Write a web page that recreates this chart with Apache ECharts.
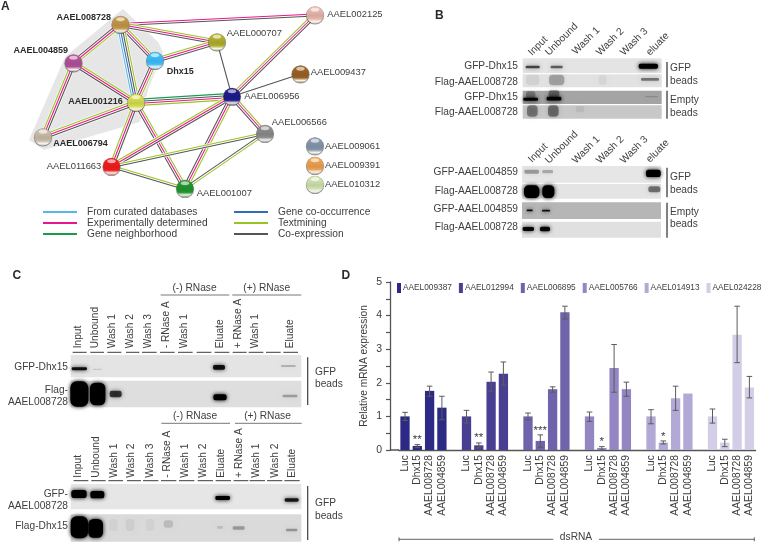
<!DOCTYPE html>
<html><head><meta charset="utf-8">
<style>html,body{margin:0;padding:0;background:#fff}#c{width:763px;height:542px}</style>
<script src="https://cdn.jsdelivr.net/npm/echarts@6/dist/echarts.min.js"></script>
</head><body><div id="c"></div>
<script>
// ---------- Panel D data ----------
const geneSeries = ['AAEL009387','AAEL012994','AAEL006895','AAEL005766','AAEL014913','AAEL024228'];
const treatments = ['Luc','Dhx15','AAEL008728','AAEL004859'];
const valuesG1 = [1.0,0.12,1.76,1.26];
const valuesG2 = [1.0,0.14,2.03,2.27];
const valuesG3 = [1.0,0.27,1.81,4.10];
const valuesG4 = [1.0,0.06,2.44,1.81];
const valuesG5 = [1.0,0.22,1.54,1.68];
const valuesG6 = [1.0,0.22,3.43,1.86];
const lowG1 = [0.88,0.07,1.60,0.90], highG1 = [1.12,0.16,1.90,1.60];
const lowG2 = [0.80,0.06,1.75,1.93], highG2 = [1.18,0.21,2.32,2.62];
const lowG3 = [0.90,0.08,1.72,3.90], highG3 = [1.10,0.45,1.88,4.28];
const lowG4 = [0.85,0.00,1.72,1.60], highG4 = [1.13,0.10,3.14,2.02];
const lowG5 = [0.78,0.18,1.18,null], highG5 = [1.20,0.27,1.90,null];
const lowG6 = [0.80,0.10,2.60,1.55], highG6 = [1.22,0.32,4.28,2.19];
const yTickLabels = ['0','1','2','3','4','5'];
const stars = [[1,'**',0.29],[6,'**',0.37],[11,'***',0.56],[16,'*',0.23],[21,'*',0.40]];
const barColors = ['#2c2a84','#483e92','#6f63ab','#9386c2','#b3a9d6','#d3cde8'];

// ---------- Panel A network ----------
const nodes = {
 '008728':[120.5,24.5,'#b48a44'],'002125':[315,15,'#d6a79e'],'000707':[217,42,'#a3a02a'],
 '004859':[73.5,63,'#a34a8e'],'Dhx15':[155,60.5,'#38aee8'],'009437':[300.5,74,'#8e5a22'],
 '006956':[232,96.5,'#1c1a80'],'001216':[136,102.5,'#c6cc4a'],'006566':[265,133.5,'#808080'],
 '006794':[43,137,'#b9ad9a'],'011663':[111.5,166.5,'#e01a1a'],'001007':[185,188.5,'#1f8a2a'],
 '009061':[315,146,'#7a8a9e'],'009391':[315,165.5,'#d9944c'],'010312':[315,184.5,'#bfcf9f']
};
const edgeColors = {c:'#55b8ea',o:'#2f6fb8',e:'#e8168a',n:'#1d9a4c',t:'#9ac425',x:'#555555'};
const edges = [
 ['008728','002125','ex'],['008728','000707','tex'],['008728','Dhx15','tex'],['008728','004859','tex'],
 ['008728','001216','txoc'],['Dhx15','000707','tex'],['Dhx15','001216','tex'],['004859','001216','tex'],
 ['004859','006794','xet'],['001216','006794','xet'],['001216','006956','nxet'],['001216','011663','xet'],
 ['001216','001007','tex'],['000707','006956','x'],['002125','006956','xet'],['009437','006956','x'],
 ['006956','006566','tex'],['006956','011663','xet'],['006956','001007','tex'],['006566','011663','xt'],
 ['006566','001007','tx'],['011663','001007','tx']
];
const hull = [[123,9],[158,42],[163,52],[148,90],[140,122],[44,150],[29,140],[65,57]];
const legendLines = [[43,77,212,'c'],[43,77,223,'e'],[43,77,234,'n'],[234,268,212,'o'],[234,268,223,'t'],[234,268,234,'x']];

// ---------- Blot panels ----------
const B = a => [420+a[0]/3, a[1]/3, a[2]/3, a[3]/3, a[4]];
const C = a => [a[0]/3, 270+a[1]/3, a[2]/3, a[3]/3, a[4]];
const blotPanels = [
 [522.7,58.3,139,14.7,'#e4e4e4'],[522.7,74.3,139,13,'#e2e2e2'],[522.7,90.7,139,13.3,'#a4a4a4'],[522.7,105.3,139,13.4,'#c8c8c8'],
 [522,166,139,16.7,'#e6e6e6'],[522,184,139,14.7,'#e4e4e4'],[522,202.3,139,16.7,'#b6b6b6'],[522,221.7,139,16,'#e0e0e0'],
 [70.7,355,230.6,22.3,'#e4e4e4'],[70.7,380.7,230.6,26.6,'#dedede'],[70.7,484,230.6,25.3,'#e6e6e6'],[70.7,514.3,230.6,27.4,'#dadada']
];
const bands = [
 [338,201,42,8,.65],[410,201,36,8,.55],[685,199,58,15,1.0],
 [338,240,40,32,.07],[410,240,46,32,.26],[548,240,24,28,.05],[690,238,54,8,.45],
 [332,285,28,22,.28],[402,282,32,22,.38],[332,298,44,9,1.0],[402,296,44,11,1.0],[695,290,38,4,.15],
 [337,333,32,34,.38],[400,333,32,34,.42],[480,328,26,18,.07],
 [335,515,44,12,.3],[383,515,32,10,.25],[700,520,44,22,1.0],
 [335,575,46,38,1.0],[385,575,36,38,1.0],[703,568,36,18,.45],
 [329,631,18,5,.95],[378,632,24,5,.9],
 [325,687,34,12,.95],[375,687,30,14,.95]
].map(B).concat([
 [238,296,46,9,.9],[292,298,28,4,.12],[657,292,36,14,.9],[865,288,44,5,.28],
 [238,372,54,76,1.0],[293,372,46,68,1.0],[347,372,36,20,.7],[660,382,40,18,1.0],[870,378,44,8,.28],
 [237,672,46,24,1.0],[292,674,42,22,1.0],[668,684,44,12,1.0],[875,690,42,10,.85],
 [238,772,52,66,1.0],[287,775,44,56,1.0],[505,762,28,22,.13],[660,772,18,8,.13],[716,774,36,10,.28],[875,780,34,8,.3],[340,765,26,36,.04],[390,765,26,36,.05],[450,765,26,36,.04]
].map(C));

// ---------- Text and rule layout: [text,x,y,align,bold,size,rotationDeg] ----------
const T = (s,x,y,a='left',b=0,f=10.2,r=0)=>[s,x,y,a,b,f,r];
const labels = [
 T('A',1,7,'left',1,12),T('B',435,16,'left',1,12),T('C',12.5,276,'left',1,12),T('D',341.5,276,'left',1,12),
 T('AAEL008728',111,17.3,'right',1,9),T('AAEL002125',327.3,14,'left',0,9.4),T('AAEL000707',226.7,33.3,'left',0,9.4),
 T('AAEL004859',68,50.7,'right',1,9),T('Dhx15',166.7,71.3,'left',1,9),T('AAEL009437',310.7,72.7,'left',0,9.4),
 T('AAEL006956',244.3,96,'left',0,9.4),T('AAEL001216',122.7,101.7,'right',1,9),T('AAEL006566',271.7,122.7,'left',0,9.4),
 T('AAEL006794',53.3,143.3,'left',1,9),T('AAEL011663',101.3,166.7,'right',0,9.4),T('AAEL001007',196.7,193.7,'left',0,9.4),
 T('AAEL009061',325,146,'left',0,9.4),T('AAEL009391',325,165,'left',0,9.4),T('AAEL010312',325,184,'left',0,9.4),
 T('From curated databases',87,212),T('Experimentally determined',87,223),T('Gene neighborhood',87,234),
 T('Gene co-occurrence',278,212),T('Textmining',278,223),T('Co-expression',278,234),
 // panel B
 T('GFP-Dhx15',518,65.7,'right'),T('Flag-AAEL008728',518,81.7,'right'),T('GFP-Dhx15',518,96.7,'right'),T('Flag-AAEL008728',518,112.3,'right'),
 T('GFP-AAEL004859',518,172,'right'),T('Flag-AAEL008728',518,190.7,'right'),T('GFP-AAEL004859',518,208.7,'right'),T('Flag-AAEL008728',518,226.7,'right'),
 T('GFP',670,68),T('beads',670,81),T('Empty',670,100),T('beads',670,112.7),T('GFP',670,177.3),T('beads',670,190),T('Empty',670,212),T('beads',670,224),
 T('Input',530,54,'left',0,10.2,45),T('Unbound',547,54,'left',0,10.2,45),T('Wash 1',574,53,'left',0,10.2,45),T('Wash 2',598,54,'left',0,10.2,45),T('Wash 3',622,54,'left',0,10.2,45),T('eluate',648,54,'left',0,10.2,45),
 T('Input',530,161,'left',0,10.2,45),T('Unbound',547,162,'left',0,10.2,45),T('Wash 1',574,162,'left',0,10.2,45),T('Wash 2',598,162,'left',0,10.2,45),T('Wash 3',622,162,'left',0,10.2,45),T('eluate',648,161,'left',0,10.2,45),
 // panel C
 T('GFP-Dhx15',68,366.7,'right'),T('Flag-',68,390,'right'),T('AAEL008728',68,402.3,'right'),T('GFP-',68,494,'right'),T('AAEL008728',68,505.7,'right'),T('Flag-Dhx15',68,526,'right'),
 T('GFP',315,371.7),T('beads',315,384.3),T('GFP',315,503.3),T('beads',315,516),
 T('(-) RNase',194.5,288,'center'),T('(+) RNase',266.7,288,'center'),T('(-) RNase',195,416,'center'),T('(+) RNase',267.5,416,'center'),
 // dsRNA
 T('dsRNA',576,537,'center'),
];
const colsC1 = ['Input','Unbound','Wash 1','Wash 2','Wash 3','- RNase A','Wash 1','','Eluate','+ RNase A','Wash 1','','Eluate'];
const colsC2 = ['Input','Unbound','Wash 1','Wash 2','Wash 3','- RNase A','Wash 1','Wash 2','Eluate','+ RNase A','Wash 1','Wash 2','Eluate'];
const colXC1 = [235,287,337,390,444,498,552,610,662,715,766,820,870];
const colXC2 = [235,290,343,395,450,502,555,610,663,717,770,825,878];
colsC1.forEach((s,i)=>{ if(s) labels.push(T(s,colXC1[i]/3,348.3,'left',0,10.2,90)); });
colsC2.forEach((s,i)=>{ labels.push(T(s,colXC2[i]/3,477.7,'left',0,10.2,90)); });

// rules: [x1,y1,x2,y2,width]
const rules = [
 [667,62,667,87.3,1.3],[667,90.7,667,118.7,1.3],[667,167.7,667,197.3,1.3],[667,202.7,667,237.7,1.3],
 [307.7,357.3,307.7,405,1.2],[307.7,486,307.7,540,1.2],
 [160.7,295,229.3,295,.7],[232.3,295,301.3,295,.7],[161.3,423.3,230,423.3,.7],[235,423.3,301.7,423.3,.7],
 [399,539.3,553.3,539.3,.8],[599,539.3,754.3,539.3,.8],[399,537.3,399,541.3,.8],[754.3,537.3,754.3,541.3,.8],
 [390,450,399,450,1.3]
];
[[218,260],[271,312],[322,364],[378,418],[426,470],[480,524],[534,578],[590,634],[644,688],[698,740],[746,790],[798,842],[850,894]]
 .forEach(p=>{rules.push([p[0]/3,352.3,p[1]/3,352.3,1]);rules.push([(p[0]+3)/3,480.7,(p[1]+5)/3,480.7,1]);});

// ---------- Assembly ----------
const groups = [valuesG1,valuesG2,valuesG3,valuesG4,valuesG5,valuesG6];
const lows = [lowG1,lowG2,lowG3,lowG4,lowG5,lowG6];
const highs = [highG1,highG2,highG3,highG4,highG5,highG6];
const categories = [];
groups.forEach((g,i)=>{ treatments.forEach(t=>categories.push(t)); if(i<5) categories.push(''); });
const slotOf = (g,k)=>g*5+k;
const errData = [];
groups.forEach((g,gi)=>g.forEach((v,k)=>{ if(lows[gi][k]!=null) errData.push([slotOf(gi,k),lows[gi][k],highs[gi][k]]); }));
const barSeries = geneSeries.map((name,gi)=>{
  const d = categories.map(()=>null);
  groups[gi].forEach((v,k)=>d[slotOf(gi,k)]=v);
  return {name,type:'bar',xAxisIndex:1,yAxisIndex:1,data:d,barWidth:9.3,barGap:'-100%',itemStyle:{color:barColors[gi]},silent:true,z:2};
});
const page = (name,data,renderItem,z)=>({name,type:'custom',xAxisIndex:0,yAxisIndex:0,data,renderItem,silent:true,z,clip:false,tooltip:{show:false}});
const idx = a=>a.map((_,i)=>[i]);

const chart = echarts.init(document.getElementById('c'),null,{renderer:'canvas'});
chart.setOption({
 animation:false,backgroundColor:'#ffffff',
 textStyle:{fontFamily:'Liberation Sans'},
 grid:[{left:0,top:0,width:763,height:542,show:false},{left:398.85,top:282,width:356.7,height:168,show:false}],
 xAxis:[{type:'value',min:0,max:763,show:false},
  {type:'category',gridIndex:1,data:categories,
   axisLine:{lineStyle:{color:'#555',width:1.3}},
   axisTick:{alignWithLabel:true,length:4,interval:(i,v)=>v!=='',lineStyle:{color:'#555',width:1.2}},
   axisLabel:{rotate:90,interval:(i,v)=>v!=='',fontSize:10.3,color:'#3c3c3c',margin:5,fontFamily:'Liberation Sans'}}],
 yAxis:[{type:'value',min:0,max:542,inverse:true,show:false},
  {type:'value',gridIndex:1,min:0,max:5,interval:0.5,offset:8.85,
   name:'Relative mRNA expression',nameLocation:'middle',nameGap:21,nameTextStyle:{fontSize:10.2,color:'#3c3c3c',fontFamily:'Liberation Sans'},
   axisLine:{show:true,lineStyle:{color:'#555',width:1.3}},
   axisTick:{show:true,length:4,lineStyle:{color:'#555',width:1.2}},
   splitLine:{show:false},
   axisLabel:{fontSize:10.5,color:'#3c3c3c',margin:8,fontFamily:'Liberation Sans',
     formatter:v=>Number.isInteger(v)?yTickLabels[v]:''}}],
 legend:{left:397,top:283,width:366,itemWidth:4,itemHeight:10,itemGap:7,icon:'rect',selectedMode:false,padding:0,
   data:geneSeries,textStyle:{fontSize:8.3,color:'#3c3c3c',padding:[0,0,0,-3],fontFamily:'Liberation Sans'}},
 series:[
  page('hull',[[0]],(p,api)=>({type:'polygon',shape:{points:hull.map(h=>api.coord(h))},style:{fill:'#e6e6e6'}}),1),
  page('edges',idx(edges),(p,api)=>{
    const e=edges[p.dataIndex],a=api.coord(nodes[e[0]]),b=api.coord(nodes[e[1]]);
    const dx=b[0]-a[0],dy=b[1]-a[1],L=Math.hypot(dx,dy),nx=-dy/L,ny=dx/L,n=e[2].length,gap=2.1;
    const kids=[{type:'line',shape:{x1:a[0],y1:a[1],x2:b[0],y2:b[1]},style:{stroke:'#ffffff',lineWidth:n*gap+.4,opacity:n>1?.85:0}}];
    e[2].split('').forEach((c,i)=>{const o=(i-(n-1)/2)*gap;
      kids.push({type:'line',shape:{x1:a[0]+nx*o,y1:a[1]+ny*o,x2:b[0]+nx*o,y2:b[1]+ny*o},style:{stroke:edgeColors[c],lineWidth:1.05}});});
    return {type:'group',children:kids};
  },2),
  page('nodes',idx(Object.keys(nodes)),(p,api)=>{
    const n=nodes[Object.keys(nodes)[p.dataIndex]],c=api.coord(n),col=n[2],L=echarts.color.lift;
    const grad=new echarts.graphic.LinearGradient(0,0,0,1,[
      {offset:0,color:L(col,-.15)},{offset:.55,color:col},{offset:.72,color:L(col,-.08)},{offset:.88,color:'#f4f4ec'},{offset:1,color:L(col,.3)}]);
    return {type:'group',children:[
      {type:'circle',shape:{cx:c[0],cy:c[1]+.4,r:9.2},style:{fill:'rgba(70,70,70,.55)'}},
      {type:'circle',shape:{cx:c[0],cy:c[1],r:8.6},style:{fill:grad}},
      {type:'ellipse',shape:{cx:c[0],cy:c[1]-5.2,rx:4.3,ry:2},style:{fill:'rgba(255,255,255,.62)'}}
    ]};
  },3),
  page('legendLines',idx(legendLines),(p,api)=>{
    const l=legendLines[p.dataIndex],a=api.coord([l[0],l[2]]),b=api.coord([l[1],l[2]]);
    return {type:'line',shape:{x1:a[0],y1:a[1],x2:b[0],y2:b[1]},style:{stroke:edgeColors[l[3]],lineWidth:2}};
  },3),
  page('blotPanels',idx(blotPanels),(p,api)=>{
    const r=blotPanels[p.dataIndex],a=api.coord([r[0],r[1]]);
    return {type:'rect',shape:{x:a[0],y:a[1],width:r[2],height:r[3]},style:{fill:r[4]}};
  },2),
  page('bands',idx(bands),(p,api)=>{
    const b=bands[p.dataIndex],a=api.coord([b[0],b[1]]),c=`rgba(0,0,0,${b[4]})`;
    return {type:'rect',shape:{x:a[0]-b[2]/2,y:a[1]-b[3]/2,width:b[2],height:b[3],r:Math.min(b[2],b[3])*.35},
      style:{fill:c,shadowColor:c,shadowBlur:4.5}};
  },3),
  page('rules',idx(rules),(p,api)=>{
    const r=rules[p.dataIndex],a=api.coord([r[0],r[1]]),b=api.coord([r[2],r[3]]);
    return {type:'line',shape:{x1:a[0],y1:a[1],x2:b[0],y2:b[1]},style:{stroke:'#3c3c3c',lineWidth:r[4]}};
  },4),
  page('labels',idx(labels),(p,api)=>{
    const t=labels[p.dataIndex],a=api.coord([t[1],t[2]]);
    return {type:'text',x:a[0],y:a[1],rotation:t[6]*Math.PI/180,style:{text:t[0],x:0,y:0,align:t[3],verticalAlign:'middle',
      fontFamily:'Liberation Sans',fontSize:t[5],fontWeight:t[4]?'bold':'normal',fill:t[4]?'#2a2a2a':'#404040'}};
  },5),
  ...barSeries,
  {name:'errors',type:'custom',xAxisIndex:1,yAxisIndex:1,data:errData,silent:true,z:4,tooltip:{show:false},
   renderItem:(p,api)=>{
    const lo=api.coord([api.value(0),api.value(1)]),hi=api.coord([api.value(0),api.value(2)]),s=2.8;
    const st={stroke:'#5c5c5c',lineWidth:1};
    return {type:'group',children:[
     {type:'line',shape:{x1:lo[0],y1:lo[1],x2:hi[0],y2:hi[1]},style:st},
     {type:'line',shape:{x1:lo[0]-s,y1:lo[1],x2:lo[0]+s,y2:lo[1]},style:st},
     {type:'line',shape:{x1:hi[0]-s,y1:hi[1],x2:hi[0]+s,y2:hi[1]},style:st}]};
   }},
  {name:'stars',type:'custom',xAxisIndex:1,yAxisIndex:1,data:stars.map(s=>[s[0],s[2]]),silent:true,z:5,tooltip:{show:false},
   renderItem:(p,api)=>{
    const c=api.coord([api.value(0),api.value(1)]);
    return {type:'text',x:c[0],y:c[1],style:{text:stars[p.dataIndex][1],align:'center',verticalAlign:'middle',fontSize:11.5,fontFamily:'Liberation Sans',fill:'#3c3c3c'}};
   }}
 ]
});
</script></body></html>
